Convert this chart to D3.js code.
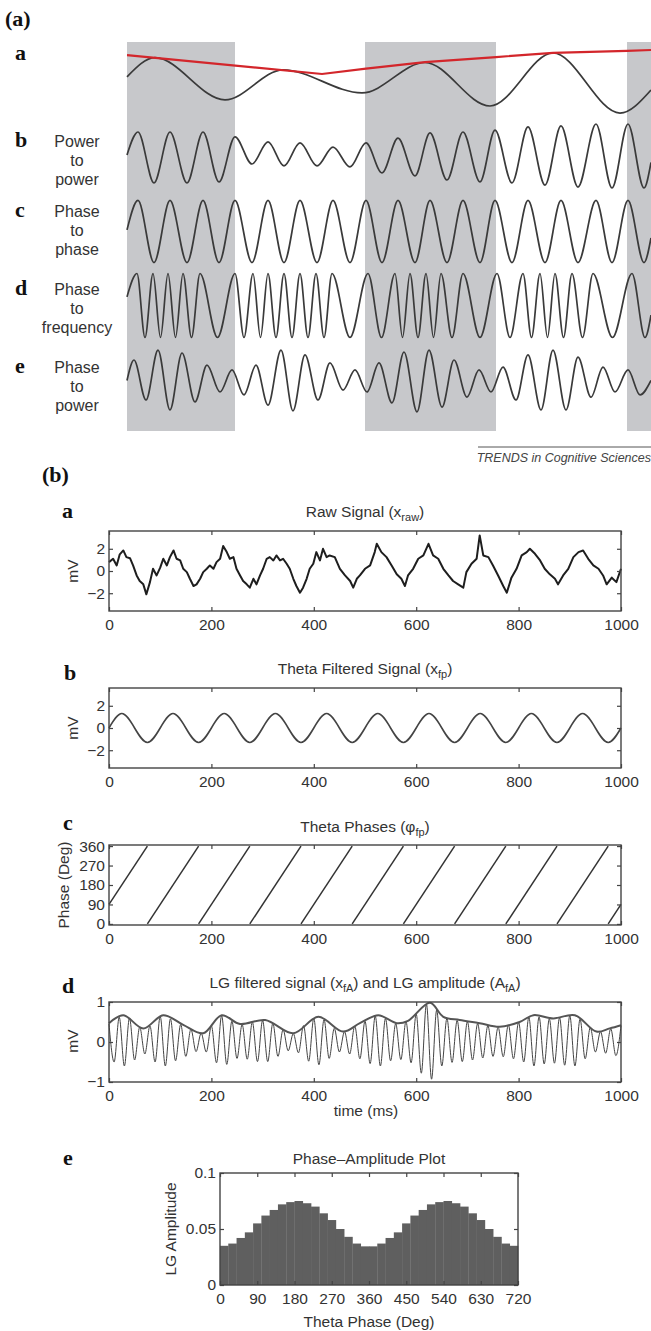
<!DOCTYPE html>
<html lang="en">
<head>
<meta charset="UTF-8">
<title>Cross-frequency coupling</title>
<script src="https://cdn.jsdelivr.net/npm/d3@7"></script>
<style>
  body { margin: 0; background: #fff; }
  svg { display: block; }
</style>
</head>
<body>
<div id="chart"></div>
<script>
// ---------------- panel (a): schematic coupling types (time in ms, amplitude normalised)
const shadeStart = [0, 476, 1000];
const shadeEnd   = [216, 738, 1048];

const slowT = [0, 56, 196, 312, 470, 596, 726, 852, 986, 1048];
const slowV = [0.16, 0.76, -0.56, 0.38, -0.34, 0.61, -0.75, 0.91, -0.97, -0.25];
const envT  = [0, 390, 478, 596, 738, 852, 1000, 1048];
const envV  = [0.84, 0.25, 0.42, 0.62, 0.78, 0.91, 0.97, 1.0];

// rows b and c share the extrema times of the fast wave
const fastT = [0, 22, 54, 86, 120, 152, 184, 216, 250, 282, 314, 346, 380, 412, 446, 478, 510,
               542, 576, 606, 640, 672, 706, 736, 770, 802, 836, 868, 902, 938, 970, 1002, 1034, 1048];
const powV  = [0.03, 0.75, -0.84, 0.75, -0.84, 0.75, -0.81, 0.6, -0.25, 0.44, -0.31, 0.41, -0.31, 0.28, -0.34, 0.41, -0.53,
               0.56, -0.62, 0.72, -0.75, 0.75, -0.81, 0.81, -0.84, 0.91, -0.91, 0.94, -0.97, 1.0, -1.0, 1.0, -1.0, -0.2];
const phsV  = [0.05, 0.97, -0.97, 0.97, -0.97, 0.97, -0.97, 0.97, -0.97, 0.97, -0.97, 0.97, -0.97, 0.97, -0.97, 0.97, -0.97,
               0.97, -0.97, 0.97, -0.97, 0.97, -0.97, 0.97, -0.97, 0.97, -0.97, 0.97, -0.97, 0.97, -0.97, 0.97, -0.97, -0.2];

const freqT = [0, 20, 36, 52, 67, 82, 97, 112, 129, 146, 181, 216, 234, 252, 267, 282, 298, 314, 330, 346,
               362, 378, 394, 410, 446, 482, 509, 536, 551, 566, 582, 598, 613, 628, 650, 672, 706, 740, 766, 792,
               809, 826, 841, 856, 873, 890, 911, 932, 971, 1010, 1036, 1048];
const freqV = [0.27, 1, -1, 1, -1, 1, -1, 1, -1, 1, -1, 1, -1, 1, -1, 1, -1, 1, -1, 1,
               -1, 1, -1, 1, -1, 1, -1, 1, -1, 1, -1, 1, -1, 1, -1, 1, -1, 1, -1, 1,
               -1, 1, -1, 1, -1, 1, -1, 1, -1, 1, -1, -0.3];

const ppT = [0, 14, 38, 62, 86, 110, 136, 160, 186, 210, 234, 258, 282, 308, 332, 356, 382, 406, 432, 456, 480, 504,
             530, 554, 580, 604, 630, 654, 680, 704, 728, 752, 778, 802, 828, 852, 878, 902, 928, 952, 976, 1002, 1026, 1048];
const ppV = [0, 0.64, -0.61, 0.95, -0.92, 0.86, -0.67, 0.48, -0.36, 0.33, -0.45, 0.48, -0.77, 0.95, -0.95, 0.8, -0.61, 0.55, -0.3, 0.33, -0.36, 0.55,
             -0.7, 0.89, -0.98, 0.95, -0.83, 0.64, -0.52, 0.33, -0.36, 0.42, -0.61, 0.8, -0.92, 0.95, -0.92, 0.73, -0.52, 0.42, -0.36, 0.33, -0.45, 0];

const rowLetters = ['a', 'b', 'c', 'd', 'e'];
const rowNames = [[], ['Power', 'to', 'power'], ['Phase', 'to', 'phase'], ['Phase', 'to', 'frequency'], ['Phase', 'to', 'power']];

// ---------------- panel (b): worked example (time in ms)
const timeTicks = [0, 200, 400, 600, 800, 1000];
const mvTicks = [-2, 0, 2];
const phaseTicks = [0, 90, 180, 270, 360];
const lgTicks = [-1, 0, 1];

const rawT = [0, 8, 15, 21, 28, 34, 41, 47, 54, 60, 67, 73, 80, 86, 93, 100, 106, 113, 119, 126,
  132, 139, 145, 152, 158, 165, 171, 178, 184, 191, 197, 204, 210, 217, 223, 230, 236, 243, 249, 256,
  262, 269, 275, 282, 288, 295, 301, 308, 314, 321, 327, 334, 340, 347, 353, 360, 366, 373, 379, 386,
  392, 399, 405, 412, 418, 425, 431, 441, 451, 461, 471, 477, 484, 490, 500, 510, 519, 523, 532, 542,
  552, 562, 571, 578, 584, 594, 604, 614, 624, 633, 643, 653, 663, 672, 682, 692, 698, 708, 718, 724,
  731, 741, 750, 760, 770, 777, 786, 796, 806, 816, 822, 832, 842, 851, 861, 871, 877, 887, 897, 907,
  917, 926, 936, 946, 956, 965, 972, 982, 991, 1000];
const rawV = [0.8, 1.1, 0.5, 1.5, 1.85, 1.25, 1.15, 0.5, -0.4, -0.9, -1.2, -2.1, -1.0, 0.2, -0.4, 0.3, 1.1, 0.5, 1.25, 1.85,
  1.1, 0.95, 0.2, -0.1, -0.7, -1.35, -1.2, -0.7, -0.1, 0.2, 0.5, 0.2, 0.8, 1.1, 2.25, 1.7, 1.1, 1.25, 0.2, -0.4,
  -0.9, -1.2, -1.5, -0.7, -1.2, -0.4, 0.2, 1.1, 1.25, 0.95, 1.4, 0.95, 1.1, 0.65, 0.2, -0.7, -1.35, -1.95, -1.5, -0.7,
  0.2, 0.65, 1.7, 0.95, 2.0, 1.25, 1.4, 1.25, 0.2, -0.4, -0.9, -1.5, -0.7, -0.4, 0.2, 0.5, 1.7, 2.45, 1.7, 1.25,
  0.5, -0.3, -0.7, -1.35, -0.4, 0.2, 1.1, 1.4, 2.45, 1.4, 1.1, 0.2, -0.4, -0.9, -1.2, -1.5, -0.1, 0.65, 1.1, 3.2,
  1.4, 1.25, 0.5, -0.4, -1.35, -1.95, -0.6, 0.2, 1.4, 1.7, 2.0, 1.55, 0.95, 0.2, -0.3, -0.7, -1.2, -0.4, 0.2, 1.25,
  1.7, 1.85, 1.1, 0.5, 0.2, -0.4, -1.2, -0.6, -1.0, 0.2];

const thetaT = [0, 25, 75, 125, 175, 225, 275, 325, 375, 425, 475, 525, 575, 625, 675, 725, 775, 825, 875, 925, 975, 1000];
const thetaV = [0, 1.3, -1.3, 1.3, -1.3, 1.3, -1.3, 1.3, -1.3, 1.3, -1.3, 1.3, -1.3, 1.3, -1.3, 1.3, -1.3, 1.3, -1.3, 1.3, -1.3, 0];

const phaseWrapT = [75, 175, 275, 375, 475, 575, 675, 775, 875, 975];
const phaseStart = 90, phaseEnd = 90;

const lgStep = 10; // ms between samples of the LG trace (alternating peaks/troughs)
const lgSig = [0.45, -0.5, 0.62, -0.6, 0.6, -0.45, 0.37, -0.3, 0.4, -0.5,
  0.64, -0.6, 0.58, -0.47, 0.44, -0.36, 0.32, -0.24, 0.22, -0.25,
  0.4, -0.52, 0.66, -0.56, 0.52, -0.41, 0.44, -0.43, 0.5, -0.49,
  0.54, -0.49, 0.47, -0.36, 0.31, -0.22, 0.21, -0.27, 0.41, -0.48,
  0.59, -0.57, 0.56, -0.41, 0.34, -0.25, 0.26, -0.3, 0.4, -0.42,
  0.52, -0.54, 0.65, -0.6, 0.59, -0.47, 0.46, -0.44, 0.51, -0.52,
  0.7, -0.78, 0.95, -0.93, 0.8, -0.6, 0.59, -0.51, 0.54, -0.49,
  0.51, -0.45, 0.46, -0.4, 0.41, -0.36, 0.37, -0.37, 0.43, -0.42,
  0.49, -0.5, 0.62, -0.6, 0.63, -0.55, 0.58, -0.53, 0.61, -0.58,
  0.66, -0.6, 0.57, -0.42, 0.36, -0.25, 0.26, -0.28, 0.33, -0.34,
  0.41];
const lgAmpT = [0, 28, 67, 106, 145, 184, 220, 256, 305, 360, 409, 457, 490, 526, 562, 584, 627, 653, 685, 724, 763, 802, 829, 868, 910, 952, 978, 1000];
const lgAmpV = [0.47, 0.67, 0.34, 0.67, 0.43, 0.22, 0.67, 0.45, 0.55, 0.22, 0.63, 0.26, 0.47, 0.67, 0.47, 0.53, 0.98, 0.63, 0.55, 0.47, 0.38, 0.5, 0.67, 0.59, 0.67, 0.26, 0.34, 0.42];

const binWidth = 20;
const ampBins = [0.035, 0.037, 0.042, 0.047, 0.055, 0.062, 0.067, 0.072, 0.074, 0.075, 0.073, 0.070,
  0.064, 0.058, 0.050, 0.043, 0.037, 0.0345, 0.0345, 0.037, 0.042, 0.047, 0.055, 0.062,
  0.067, 0.072, 0.074, 0.075, 0.073, 0.070, 0.064, 0.058, 0.050, 0.043, 0.037, 0.035];
const degTicks = [0, 90, 180, 270, 360, 450, 540, 630, 720];
const ampTicks = [0, 0.05, 0.1];

// ---------------- drawing
const W = 651, H = 1331;
const SANS = '"Liberation Sans", Arial, Helvetica, sans-serif';
const SERIF = '"Liberation Serif", "Times New Roman", serif';
const svg = d3.select('#chart').append('svg').attr('width', W).attr('height', H);
svg.append('rect').attr('width', W).attr('height', H).attr('fill', '#fff');

function label(x, y, txt, opt) {
  opt = opt || {};
  return svg.append('text').attr('x', x).attr('y', y)
    .attr('font-family', opt.serif ? SERIF : SANS)
    .attr('font-weight', opt.serif ? 'bold' : null)
    .attr('font-style', opt.italic ? 'italic' : null)
    .attr('font-size', opt.size || 15.5)
    .attr('fill', opt.fill || '#222')
    .attr('text-anchor', opt.anchor || 'start')
    .text(txt);
}

// ---- panel (a)
const xa = d3.scaleLinear().domain([0, 1048]).range([127, 651]);
const rowCenter = [82, 156, 231.5, 305.5, 380.5];
const rowY = rowCenter.map(c => d3.scaleLinear().domain([-1, 1]).range([c + 32, c - 32]));

svg.selectAll('rect.shade').data(shadeStart).enter().append('rect')
  .attr('class', 'shade')
  .attr('x', d => xa(d))
  .attr('width', (d, i) => xa(shadeEnd[i]) - xa(d))
  .attr('y', 42).attr('height', 389)
  .attr('fill', '#c7c8cb');

function wave(T, V, y, curve) {
  return d3.line().x((d, i) => xa(T[i])).y(d => y(d)).curve(curve || d3.curveMonotoneX)(V);
}
const waves = [[slowT, slowV], [fastT, powV], [fastT, phsV], [freqT, freqV], [ppT, ppV]];
waves.forEach((w, i) => {
  svg.append('path').attr('d', wave(w[0], w[1], rowY[i]))
    .attr('fill', 'none').attr('stroke', '#3a3a3a').attr('stroke-width', 1.7);
});
svg.append('path').attr('d', wave(envT, envV, rowY[0], d3.curveLinear))
  .attr('fill', 'none').attr('stroke', '#d3262b').attr('stroke-width', 2.2);

label(5, 26, '(a)', { serif: true, size: 22, fill: '#111' });
const letterBase = [60, 147, 217, 295, 373];
rowLetters.forEach((l, i) => {
  label(15, letterBase[i], l, { serif: true, size: 22, fill: '#111' });
  rowNames[i].forEach((n, j) => {
    label(77, letterBase[i] + j * 19, n, { size: 16, anchor: 'middle', fill: '#333' });
  });
});

svg.append('line').attr('x1', 478).attr('x2', 651).attr('y1', 447).attr('y2', 447)
  .attr('stroke', '#555').attr('stroke-width', 1);
label(651, 462, 'TRENDS in Cognitive Sciences', { italic: true, size: 12.5, anchor: 'end', fill: '#444' });

// ---- panel (b)
label(42, 482, '(b)', { serif: true, size: 22, fill: '#111' });

const fmt = d => (d < 0 ? '\u2212' : '') + Math.abs(d);

function frame(x, y, xt, yt) {
  const g = svg.append('g');
  const [x0, x1] = x.range();
  const [yb, yt0] = y.range();
  g.append('g').attr('transform', `translate(0,${yb})`)
    .call(d3.axisBottom(x).tickValues(xt).tickFormat(fmt).tickSize(-4).tickPadding(8));
  g.append('g').attr('transform', `translate(0,${yt0})`)
    .call(d3.axisTop(x).tickValues(xt).tickSize(-4).tickFormat(''));
  g.append('g').attr('transform', `translate(${x0},0)`)
    .call(d3.axisLeft(y).tickValues(yt).tickFormat(fmt).tickSize(-4).tickPadding(4));
  g.append('g').attr('transform', `translate(${x1},0)`)
    .call(d3.axisRight(y).tickValues(yt).tickSize(-4).tickFormat(''));
  g.selectAll('.domain').remove();
  g.selectAll('.tick line').attr('stroke', '#444').attr('stroke-width', 1.2);
  g.selectAll('.tick text').attr('font-family', SANS).attr('font-size', 15.5).attr('fill', '#333');
  g.append('rect').attr('x', x0).attr('y', yt0).attr('width', x1 - x0).attr('height', yb - yt0)
    .attr('fill', 'none').attr('stroke', '#444').attr('stroke-width', 1.4);
  return g;
}

function title(cx, cy, parts) {
  const t = svg.append('text').attr('x', cx).attr('y', cy + 5.5)
    .attr('text-anchor', 'middle').attr('font-family', SANS).attr('font-size', 15.5).attr('fill', '#333');
  parts.forEach(p => {
    const s = t.append('tspan').text(p[0]);
    if (p[1] === 'sub') s.attr('font-size', 11).attr('dy', 4);
    if (p[1] === 'up') s.attr('dy', -4);
  });
}

function yLabel(cx, cy, txt) {
  svg.append('text').attr('transform', `translate(${cx},${cy}) rotate(-90)`)
    .attr('text-anchor', 'middle').attr('dominant-baseline', 'central')
    .attr('font-family', SANS).attr('font-size', 15.5).attr('fill', '#333').text(txt);
}

const xb = d3.scaleLinear().domain([0, 1000]).range([109, 621]);
const boxTop = [531, 688, 845, 1002];
const yRaw = d3.scaleLinear().domain([-3.6, 3.6]).range([boxTop[0] + 80, boxTop[0]]);
const yTheta = d3.scaleLinear().domain([-3.6, 3.6]).range([boxTop[1] + 80, boxTop[1]]);
const yPhase = d3.scaleLinear().domain([-5, 365]).range([boxTop[2] + 80, boxTop[2]]);
const yLG = d3.scaleLinear().domain([-1, 1]).range([boxTop[3] + 80, boxTop[3]]);

// a: raw
svg.append('path')
  .attr('d', d3.line().x((d, i) => xb(rawT[i])).y(d => yRaw(d))(rawV))
  .attr('fill', 'none').attr('stroke', '#1e1e1e').attr('stroke-width', 2).attr('stroke-linejoin', 'round');
frame(xb, yRaw, timeTicks, mvTicks);
title(365, 511, [['Raw Signal (x'], ['raw', 'sub'], [')', 'up']]);
label(62, 518, 'a', { serif: true, size: 22, fill: '#111' });
yLabel(72, 571, 'mV');

// b: theta filtered
svg.append('path')
  .attr('d', d3.line().x((d, i) => xb(thetaT[i])).y(d => yTheta(d)).curve(d3.curveMonotoneX)(thetaV))
  .attr('fill', 'none').attr('stroke', '#444').attr('stroke-width', 1.6);
frame(xb, yTheta, timeTicks, mvTicks);
title(365, 668, [['Theta Filtered Signal (x'], ['fp', 'sub'], [')', 'up']]);
label(64, 680, 'b', { serif: true, size: 22, fill: '#111' });
yLabel(72, 728, 'mV');

// c: theta phase sawtooth
const segs = [];
segs.push([[0, phaseStart], [phaseWrapT[0], 360]]);
for (let i = 0; i < phaseWrapT.length - 1; i++) segs.push([[phaseWrapT[i], 0], [phaseWrapT[i + 1], 360]]);
segs.push([[phaseWrapT[phaseWrapT.length - 1], 0], [1000, phaseEnd]]);
svg.selectAll('path.phase').data(segs).enter().append('path')
  .attr('class', 'phase')
  .attr('d', d3.line().x(d => xb(d[0])).y(d => yPhase(d[1])))
  .attr('fill', 'none').attr('stroke', '#333').attr('stroke-width', 1.5);
frame(xb, yPhase, timeTicks, phaseTicks);
title(365, 826, [['Theta Phases (\u03c6'], ['fp', 'sub'], [')', 'up']]);
label(63, 830, 'c', { serif: true, size: 22, fill: '#111' });
yLabel(63, 885, 'Phase (Deg)');

// d: LG signal and amplitude
svg.append('path')
  .attr('d', d3.line().x((d, i) => xb(i * lgStep)).y(d => yLG(d)).curve(d3.curveMonotoneX)(lgSig))
  .attr('fill', 'none').attr('stroke', '#444').attr('stroke-width', 1);
svg.append('path')
  .attr('d', d3.line().x((d, i) => xb(lgAmpT[i])).y(d => yLG(d)).curve(d3.curveCatmullRom)(lgAmpV))
  .attr('fill', 'none').attr('stroke', '#555').attr('stroke-width', 2);
frame(xb, yLG, timeTicks, lgTicks);
title(365, 982, [['LG filtered signal (x'], ['fA', 'sub'], [') and LG amplitude (A', 'up'], ['fA', 'sub'], [')', 'up']]);
label(62, 993, 'd', { serif: true, size: 22, fill: '#111' });
yLabel(72, 1041, 'mV');
label(366, 1116, 'time (ms)', { anchor: 'middle', fill: '#333' });

// e: phase-amplitude histogram
const xe = d3.scaleLinear().domain([0, 720]).range([220, 518]);
const ye = d3.scaleLinear().domain([0, 0.1]).range([1285, 1173]);
svg.selectAll('rect.bin').data(ampBins).enter().append('rect')
  .attr('class', 'bin')
  .attr('x', (d, i) => xe(i * binWidth))
  .attr('width', xe(binWidth) - xe(0) + 0.3)
  .attr('y', d => ye(d))
  .attr('height', d => ye(0) - ye(d))
  .attr('fill', '#5f5f5f');
frame(xe, ye, degTicks, ampTicks);
title(369, 1158, [['Phase\u2013Amplitude Plot']]);
label(63, 1165, 'e', { serif: true, size: 22, fill: '#111' });
yLabel(170, 1229, 'LG Amplitude');
label(369, 1327, 'Theta Phase (Deg)', { anchor: 'middle', fill: '#333' });
</script>
</body>
</html>
